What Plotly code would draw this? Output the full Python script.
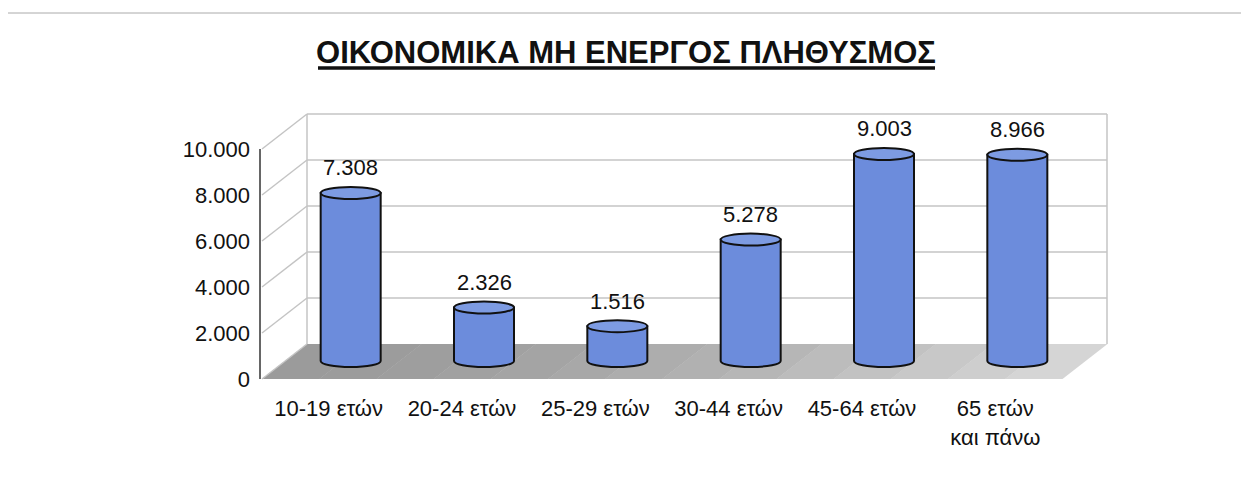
import plotly.graph_objects as go

# ---------------- data ----------------
categories = ["10-19 ετών", "20-24 ετών", "25-29 ετών", "30-44 ετών", "45-64 ετών", "65 ετών<br>και πάνω"]
values = [7308, 2326, 1516, 5278, 9003, 8966]
y_ticks = [0, 2000, 4000, 6000, 8000, 10000]
title_text = "ΟΙΚΟΝΟΜΙΚΑ ΜΗ ΕΝΕΡΓΟΣ ΠΛΗΘΥΣΜΟΣ"

# ---------------- geometry (page pixels of the target) ----------------
OFF = 8                                   # page body margin
FIG_W, FIG_H = 1233, 464
L0 = 262                                  # front axis left in page pixels
FRONT_W, FRONT_H = 800, 230               # front axis extent
DX, DY = 45, 35                           # 3D depth offset
BOTTOM0 = 379                             # front zero line
YMAX = 10000
PX_PER_UNIT = FRONT_H / YMAX
MDX, MDY = 22, 18                         # bars sit at mid depth

# plot area (mid-depth axes) in page pixels
AX_L = L0 + MDX
AX_T = BOTTOM0 - MDY - FRONT_H
APW = FRONT_W
APH = FRONT_H + MDY
L = AX_L - OFF
T = AX_T - OFF
R = FIG_W - L - APW
B = FIG_H - T - APH


def fx(X):  # page px -> paper
    return (X - AX_L) / APW


def fy(Y):
    return (AX_T + APH - Y) / APH


def front_y(v):
    return BOTTOM0 - v * PX_PER_UNIT


fig = go.Figure()

fig.add_trace(go.Bar(
    x=list(range(len(values))), y=values, width=0.45,
    marker=dict(color="#6c8cdc", line=dict(width=0)),
    customdata=categories,
    hovertemplate="%{customdata}: %{y:,.0f}<extra></extra>",
    showlegend=False,
))

shapes = []
wall_col = "#c4c4c4"
x_front0, x_front1 = L0, L0 + FRONT_W

# floor (gradient strips)
n = 14
for k in range(n):
    a = x_front0 + FRONT_W * k / n
    b = x_front0 + FRONT_W * (k + 1) / n
    t = k / (n - 1)
    g = int(155 + 58 * t ** 1.5)
    col = f"rgb({g},{g},{g})"
    y0 = front_y(0)
    path = (f"M {fx(a)},{fy(y0)} L {fx(b + 0.5)},{fy(y0)} "
            f"L {fx(b + DX + 0.5)},{fy(y0 - DY)} L {fx(a + DX)},{fy(y0 - DY)} Z")
    shapes.append(dict(type="path", path=path, xref="paper", yref="paper",
                       fillcolor=col, line=dict(width=0), layer="below"))

# back wall and side wall grid lines
for v in y_ticks:
    yf = front_y(v)
    yb = yf - DY
    if v > 0:
        shapes.append(dict(type="line", xref="paper", yref="paper",
                           x0=fx(x_front0 + DX), x1=fx(x_front1 + DX), y0=fy(yb), y1=fy(yb),
                           line=dict(color=wall_col, width=1.5), layer="below"))
    shapes.append(dict(type="line", xref="paper", yref="paper",
                       x0=fx(x_front0), x1=fx(x_front0 + DX), y0=fy(yf), y1=fy(yb),
                       line=dict(color=wall_col, width=1.5), layer="below"))
for X in (x_front0 + DX, x_front1 + DX):
    shapes.append(dict(type="line", xref="paper", yref="paper",
                       x0=fx(X), x1=fx(X), y0=fy(front_y(0) - DY), y1=fy(front_y(YMAX) - DY),
                       line=dict(color=wall_col, width=1.5), layer="below"))

# front value axis line
shapes.append(dict(type="line", xref="paper", yref="paper",
                   x0=fx(L0 - 2), x1=fx(L0 - 2), y0=fy(front_y(0)), y1=fy(front_y(YMAX)),
                   line=dict(color="#333333", width=1.5), layer="above"))

# cylinders (outline + top ellipse) in data coordinates
rx = 0.225
ry = 6 / PX_PER_UNIT
kk = 0.5523
for i, v in enumerate(values):
    xl, xr = i - rx, i + rx
    path = (f"M {xl},{v} L {xl},0 "
            f"C {xl},{-kk*ry} {i - kk*rx},{-ry} {i},{-ry} "
            f"C {i + kk*rx},{-ry} {xr},{-kk*ry} {xr},0 "
            f"L {xr},{v} Z")
    shapes.append(dict(type="path", path=path, xref="x", yref="y",
                       fillcolor="#6c8cdc", line=dict(color="#111111", width=2), layer="above"))
    shapes.append(dict(type="circle", xref="x", yref="y",
                       x0=xl, x1=xr, y0=v - ry, y1=v + ry,
                       fillcolor="#7d9be2", line=dict(color="#111111", width=2), layer="above"))

# title underline
shapes.append(dict(type="line", xref="paper", yref="paper",
                   x0=fx(318), x1=fx(935), y0=fy(68), y1=fy(68),
                   line=dict(color="#111111", width=3.5)))
# outer frame
shapes.append(dict(type="line", xref="paper", yref="paper",
                   x0=fx(5), x1=fx(1249), y0=fy(13), y1=fy(13),
                   line=dict(color="#aaaaaa", width=1)))
shapes.append(dict(type="line", xref="paper", yref="paper",
                   x0=fx(5), x1=fx(5), y0=fy(13), y1=fy(480),
                   line=dict(color="#aaaaaa", width=1)))

annotations = []
for i, v in enumerate(values):
    annotations.append(dict(x=i, y=v, xref="x", yref="y", yshift=25,
                            text=f"{v:,}".replace(",", "."), showarrow=False,
                            font=dict(size=22, color="#111111")))

fig.update_layout(
    width=FIG_W, height=FIG_H,
    margin=dict(l=L, r=R, t=T, b=B, autoexpand=False),
    paper_bgcolor="white", plot_bgcolor="rgba(0,0,0,0)",
    separators=",.",
    font=dict(family="Liberation Sans, Arial, sans-serif", size=22, color="#111111"),
    title=dict(text=f"<b>{title_text}</b>", x=(626 - OFF) / FIG_W, xanchor="center",
               y=1 - (52 - OFF) / FIG_H, yanchor="middle",
               font=dict(family="Liberation Sans Narrow, Arial Narrow, Liberation Sans, Arial",
                         size=31, color="#111111")),
    xaxis=dict(range=[-0.5, 5.5],
               tickvals=list(range(len(categories))), ticktext=categories,
               ticks="", ticklabelshift=-MDX, ticklabelstandoff=14,
               showgrid=False, zeroline=False, showline=False, fixedrange=True),
    yaxis=dict(range=[-MDY / PX_PER_UNIT, YMAX],
               tickvals=y_ticks, tickformat=",.0f",
               ticks="", ticklabelshift=MDY, ticklabelstandoff=MDX + 11,
               showgrid=False, zeroline=False, showline=False, fixedrange=True),
    shapes=shapes, annotations=annotations, showlegend=False,
)

fig.write_html("out.html")
